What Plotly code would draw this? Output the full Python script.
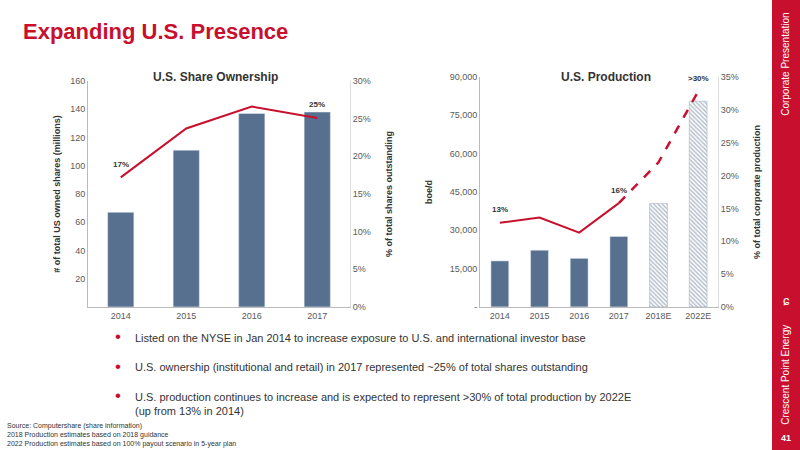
import plotly.graph_objects as go

# U.S. share ownership
own_years = ["2014", "2015", "2016", "2017"]
own_shares = [67, 111, 137, 138]
own_pct = [17.2, 23.7, 26.6, 25.1]

# U.S. production
prod_years = ["2014", "2015", "2016", "2017", "2018E", "2022E"]
prod_boed = [18000, 22200, 19000, 27600, 40500, 80500]
prod_pct = [12.8, 13.6, 11.3, 15.8, 22.0, 32.8]
n_actual = 4

RED = "#c8102e"
BLUE = "#58708f"
GREY = "#595959"
FONT = "Liberation Sans, Arial, sans-serif"

ox = list(range(len(own_years)))
px_ = list(range(len(prod_years)))

fig = go.Figure()

# left chart
fig.add_trace(go.Bar(x=ox, y=own_shares, marker_color=BLUE, width=0.4,
                     xaxis="x", yaxis="y"))
fig.add_trace(go.Scatter(x=ox, y=own_pct, mode="lines", line=dict(color=RED, width=2),
                         xaxis="x", yaxis="y2"))

# right chart
fig.add_trace(go.Bar(x=px_[:n_actual], y=prod_boed[:n_actual], marker_color=BLUE, width=0.45,
                     xaxis="x2", yaxis="y3"))
fig.add_trace(go.Bar(x=px_[n_actual:], y=prod_boed[n_actual:], width=0.45,
                     marker=dict(color="white", line=dict(color="#9aa8bb", width=0.5),
                                 pattern=dict(shape="\\", fgcolor="#6f819c", size=3, solidity=0.5)),
                     xaxis="x2", yaxis="y3"))
fig.add_trace(go.Scatter(x=px_[:n_actual], y=prod_pct[:n_actual], mode="lines",
                         line=dict(color=RED, width=2), xaxis="x2", yaxis="y4"))
fig.add_trace(go.Scatter(x=px_[n_actual - 1:], y=prod_pct[n_actual - 1:], mode="lines",
                         line=dict(color=RED, width=2.5, dash="dash"), xaxis="x2", yaxis="y4"))

tick = dict(size=9, color=GREY, family=FONT)
ax_common = dict(showgrid=False, zeroline=False, tickfont=tick, ticks="", automargin=False)
ttl = dict(size=9, color="#333", family=FONT)
fig.update_layout(
    width=800, height=450, margin=dict(l=0, r=0, t=0, b=0),
    plot_bgcolor="white", paper_bgcolor="white", showlegend=False,
    font=dict(family=FONT),
    xaxis=dict(domain=[0.11, 0.4375], anchor="y", range=[-0.5, len(ox) - 0.5],
               tickvals=ox, ticktext=own_years, showline=True,
               linecolor="#bbbbbb", **ax_common),
    yaxis=dict(range=[0, 160], showline=True, linecolor="#bbbbbb",
               tickvals=[20, 40, 60, 80, 100, 120, 140, 160], domain=[0.318, 0.82],
               title=dict(text="<b># of total US owned shares (millions)</b>", font=ttl, standoff=8),
               **ax_common),
    yaxis2=dict(range=[0, 30], dtick=5, ticksuffix="%", overlaying="y", side="right", anchor="x",
                showline=True, linecolor="#dddddd",
                title=dict(text="<b>% of total shares outstanding</b>", font=ttl),
                **ax_common),
    xaxis2=dict(domain=[0.6, 0.8975], anchor="y3", range=[-0.5, len(px_) - 0.5],
                tickvals=px_, ticktext=prod_years, showline=True,
                linecolor="#bbbbbb", **ax_common),
    yaxis3=dict(range=[0, 90000], tickvals=[0, 15000, 30000, 45000, 60000, 75000, 90000],
                ticktext=["-", "15,000", "30,000", "45,000", "60,000", "75,000", "90,000"],
                domain=[0.318, 0.829], anchor="x2", showline=True, linecolor="#bbbbbb",
                title=dict(text="<b>boe/d</b>", font=ttl), **ax_common),
    yaxis4=dict(range=[0, 35], dtick=5, ticksuffix="%", overlaying="y3", side="right", anchor="x2",
                showline=True, linecolor="#dddddd",
                title=dict(text="<b>% of total corporate production</b>", font=ttl),
                **ax_common),
)

def note(x, y, text, size, color, **kw):
    args = dict(xanchor="center", yanchor="middle")
    args.update(kw)
    fig.add_annotation(x=x, y=y, xref="paper", yref="paper", text=text, showarrow=False,
                       font=dict(size=size, color=color, family=FONT), **args)

# red sidebar
fig.add_shape(type="rect", xref="paper", yref="paper", x0=0.965, x1=1, y0=0, y1=1,
              fillcolor=RED, line_width=0, layer="below")
note(0.9825, 0.856, "Corporate Presentation", 10, "white", textangle=-90)
note(0.9825, 0.167, "Crescent Point Energy", 10, "white", textangle=-90)
note(0.9825, 0.333, "ɕ", 13, "white")
note(0.9825, 0.027, "<b>41</b>", 9, "white")

# titles
note(0.026, 0.929, "<b>Expanding U.S. Presence</b>", 22, RED, xanchor="left")
note(0.269, 0.829, "<b>U.S. Share Ownership</b>", 12, "#333")
note(0.758, 0.829, "<b>U.S. Production</b>", 12, "#333")

# data labels
lab = dict(size=8, color="#333")
for xr, yr, xv, yv, t in [("x", "y2", ox[0], own_pct[0], "17%"),
                          ("x", "y2", ox[3], own_pct[3], "25%"),
                          ("x2", "y4", px_[0], prod_pct[0], "13%"),
                          ("x2", "y4", px_[3], prod_pct[3], "16%"),
                          ("x2", "y4", px_[5], prod_pct[5], "&gt;30%")]:
    fig.add_annotation(x=xv, y=yv, xref=xr, yref=yr, text="<b>" + t + "</b>", showarrow=False,
                       yshift=13, font=lab)

# bullets
bullets = ["Listed on the NYSE in Jan 2014 to increase exposure to U.S. and international investor base",
           "U.S. ownership (institutional and retail) in 2017 represented ~25% of total shares outstanding",
           "U.S. production continues to increase and is expected to represent &gt;30% of total production by 2022E<br>(up from 13% in 2014)"]
for yb, b in zip([0.249, 0.184, 0.118], bullets):
    note(0.166, yb, b, 11, "#333", xanchor="left", yanchor="top", yshift=8, align="left")
    note(0.148, yb, "•", 17, RED, yshift=1)

note(0.006, 0.0, "Source: Computershare (share information)<br>2018 Production estimates based on 2018 guidance<br>"
                 "2022 Production estimates based on 100% payout scenario in 5-year plan",
     7, "#333", xanchor="left", yanchor="bottom", align="left")

fig.write_html("out.html", post_script="document.body.style.margin='0';",
               config={"displayModeBar": False})
